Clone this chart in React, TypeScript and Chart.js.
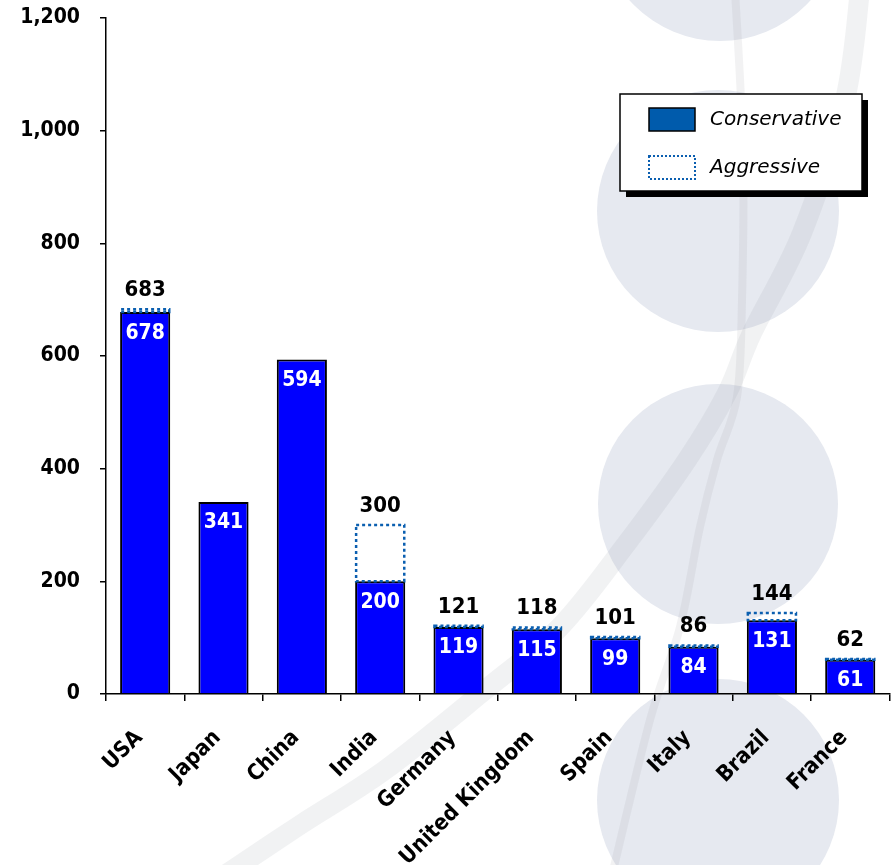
import React, { useEffect, useRef } from "react";
import { Chart, registerables } from "chart.js";

Chart.register(...registerables);

// Data
const countries = ["USA", "Japan", "China", "India", "Germany", "United Kingdom", "Spain", "Italy", "Brazil", "France"];
const conservative = [678, 341, 594, 200, 119, 115, 99, 84, 131, 61];
const aggressive: (number | null)[] = [683, null, null, 300, 121, 118, 101, 86, 144, 62];
const yTickValues = [0, 200, 400, 600, 800, 1000, 1200];
const seriesNames = ["Conservative", "Aggressive"];

const W = 893;
const H = 865;
const BOLD = '"DejaVu Sans Condensed", "DejaVu Sans", sans-serif';
const DOT_BLUE = "#0b5fb0";

// Smooth path through a list of points (Catmull-Rom converted to cubic Bezier)
function splinePath(ctx: CanvasRenderingContext2D, pts: number[][]) {
  ctx.beginPath();
  ctx.moveTo(pts[0][0], pts[0][1]);
  for (let i = 0; i < pts.length - 1; i++) {
    const p0 = pts[Math.max(0, i - 1)];
    const p1 = pts[i];
    const p2 = pts[i + 1];
    const p3 = pts[Math.min(pts.length - 1, i + 2)];
    const c1x = p1[0] + (p2[0] - p0[0]) / 6;
    const c1y = p1[1] + (p2[1] - p0[1]) / 6;
    const c2x = p2[0] - (p3[0] - p1[0]) / 6;
    const c2y = p2[1] - (p3[1] - p1[1]) / 6;
    ctx.bezierCurveTo(c1x, c1y, c2x, c2y, p2[0], p2[1]);
  }
}

// Decorative watermark behind the chart: pale discs and sweeping bands
const backdrop = {
  id: "backdrop",
  beforeDraw(chart: Chart) {
    const ctx = chart.ctx;
    ctx.save();
    ctx.fillStyle = "#ffffff";
    ctx.fillRect(0, 0, chart.width, chart.height);
    ctx.fillStyle = "#e6e9f0";
    const discs = [
      [720, -80, 121],
      [718, 211, 121],
      [718, 504, 120],
      [718, 800, 121],
    ];
    for (const [cx, cy, r] of discs) {
      ctx.beginPath();
      ctx.arc(cx, cy, r, 0, Math.PI * 2);
      ctx.fill();
    }
    ctx.lineCap = "round";
    ctx.strokeStyle = "rgba(150,152,160,0.13)";
    ctx.lineWidth = 20;
    splinePath(ctx, [
      [860, -10], [845, 100], [802, 233], [752, 333], [727, 393],
      [687, 460], [627, 543], [560, 627], [485, 690], [385, 770], [300, 825], [225, 875],
    ]);
    ctx.stroke();
    ctx.strokeStyle = "rgba(150,152,160,0.12)";
    ctx.lineWidth = 8;
    splinePath(ctx, [
      [735, -10], [743, 150], [742, 300], [737, 397], [717, 460], [700, 527], [680, 627], [650, 720], [612, 875],
    ]);
    ctx.stroke();
    ctx.restore();
  },
};

// Aggressive estimates drawn as dotted outlines over the library's bar geometry
const dottedBars = {
  id: "dottedBars",
  afterDatasetsDraw(chart: Chart) {
    const ctx = chart.ctx;
    const meta = chart.getDatasetMeta(1);
    ctx.save();
    ctx.strokeStyle = DOT_BLUE;
    ctx.lineWidth = 2.5;
    ctx.setLineDash([3, 3]);
    meta.data.forEach((el: any, i: number) => {
      if (aggressive[i] == null) return;
      const p = el.getProps(["x", "y", "base", "width"], true);
      const left = p.x - p.width / 2;
      const top = Math.min(p.y, p.base);
      const bottom = Math.max(p.y, p.base);
      ctx.strokeRect(left + 1, top, p.width - 2, bottom - top);
    });
    ctx.restore();
  },
};

// Value labels: conservative inside the bar, aggressive above it
const valueLabels = {
  id: "valueLabels",
  afterDatasetsDraw(chart: Chart) {
    const ctx = chart.ctx;
    const consMeta = chart.getDatasetMeta(0);
    const aggMeta = chart.getDatasetMeta(1);
    ctx.save();
    ctx.textAlign = "center";
    ctx.textBaseline = "middle";
    consMeta.data.forEach((el: any, i: number) => {
      const p = el.getProps(["x", "y"], true);
      ctx.fillStyle = "#ffffff";
      ctx.font = `bold 21px ${BOLD}`;
      ctx.fillText(String(conservative[i]), p.x, p.y + 21);
    });
    aggMeta.data.forEach((el: any, i: number) => {
      const v = aggressive[i];
      if (v == null) return;
      const p = el.getProps(["x", "y", "base"], true);
      const top = Math.min(p.y, p.base);
      ctx.fillStyle = "#000000";
      ctx.font = `bold 22px ${BOLD}`;
      ctx.fillText(String(v), p.x, top - 19);
    });
    ctx.restore();
  },
};

// Boxed legend with drop shadow
const boxLegend = {
  id: "boxLegend",
  afterDraw(chart: Chart) {
    const ctx = chart.ctx;
    const x = 620, y = 94, w = 242, h = 97;
    ctx.save();
    ctx.fillStyle = "#000000";
    ctx.fillRect(x + 6, y + 6, w, h);
    ctx.fillStyle = "#ffffff";
    ctx.fillRect(x, y, w, h);
    ctx.strokeStyle = "#000000";
    ctx.lineWidth = 1.5;
    ctx.strokeRect(x, y, w, h);

    ctx.fillStyle = "#005bac";
    ctx.fillRect(649, 108, 46, 23);
    ctx.strokeRect(649, 108, 46, 23);

    ctx.strokeStyle = DOT_BLUE;
    ctx.lineWidth = 2;
    ctx.setLineDash([2, 2]);
    ctx.strokeRect(649, 156, 46, 23);
    ctx.setLineDash([]);

    ctx.fillStyle = "#000000";
    ctx.font = 'italic 20px "DejaVu Sans", sans-serif';
    ctx.textAlign = "left";
    ctx.textBaseline = "middle";
    ctx.fillText(seriesNames[0], 710, 120);
    ctx.fillText(seriesNames[1], 710, 168);
    ctx.restore();
  },
};

export default function App() {
  const canvasRef = useRef<HTMLCanvasElement | null>(null);

  useEffect(() => {
    document.body.style.margin = "0";
    const canvas = canvasRef.current;
    if (!canvas) return;
    const chart = new Chart(canvas, {
      type: "bar",
      data: {
        labels: countries,
        datasets: [
          {
            label: seriesNames[0],
            data: conservative,
            backgroundColor: "#0000ff",
            borderColor: "#000000",
            borderWidth: 2,
            borderSkipped: "start",
            grouped: false,
            categoryPercentage: 0.8,
            barPercentage: 0.8,
            order: 1,
          },
          {
            label: seriesNames[1],
            data: aggressive.map((v, i) => (v == null ? null : [conservative[i], v])) as any,
            backgroundColor: "rgba(0,0,0,0)",
            borderWidth: 0,
            grouped: false,
            categoryPercentage: 0.8,
            barPercentage: 0.8,
            order: 0,
          },
        ],
      },
      options: {
        animation: false,
        responsive: false,
        devicePixelRatio: 1,
        layout: { padding: { top: 18, right: 2, left: 0, bottom: 0 } },
        plugins: {
          legend: { display: false },
          tooltip: { enabled: false },
        },
        scales: {
          x: {
            offset: true,
            grid: {
              display: true,
              offset: true,
              drawOnChartArea: false,
              drawTicks: true,
              tickLength: 7,
              color: "#000000",
              lineWidth: 1.5,
            },
            border: { display: true, color: "#000000", width: 1.5 },
            ticks: {
              color: "#000000",
              font: { family: BOLD, size: 22, weight: "bold" },
              minRotation: 45,
              maxRotation: 45,
              padding: 24,
              labelOffset: -6,
              autoSkip: false,
            },
            afterFit(scale: any) {
              scale.height = H - 694;
            },
          },
          y: {
            min: yTickValues[0],
            max: yTickValues[yTickValues.length - 1],
            grid: {
              display: true,
              drawOnChartArea: false,
              drawTicks: true,
              tickLength: 6,
              color: "#000000",
              lineWidth: 1.5,
            },
            border: { display: true, color: "#000000", width: 1.5 },
            ticks: {
              stepSize: yTickValues[1] - yTickValues[0],
              color: "#000000",
              padding: 20,
              font: { family: BOLD, size: 21, weight: "bold" },
              callback: (v: any) => Number(v).toLocaleString("en-US"),
            },
            afterFit(scale: any) {
              scale.width = 106;
              scale.paddingTop = 0;
              scale.paddingBottom = 0;
            },
          },
        },
      },
      plugins: [backdrop, dottedBars, valueLabels, boxLegend],
    });
    return () => chart.destroy();
  }, []);

  return (
    <div style={{ width: W, height: H }}>
      <canvas ref={canvasRef} width={W} height={H} style={{ display: "block" }} />
    </div>
  );
}
